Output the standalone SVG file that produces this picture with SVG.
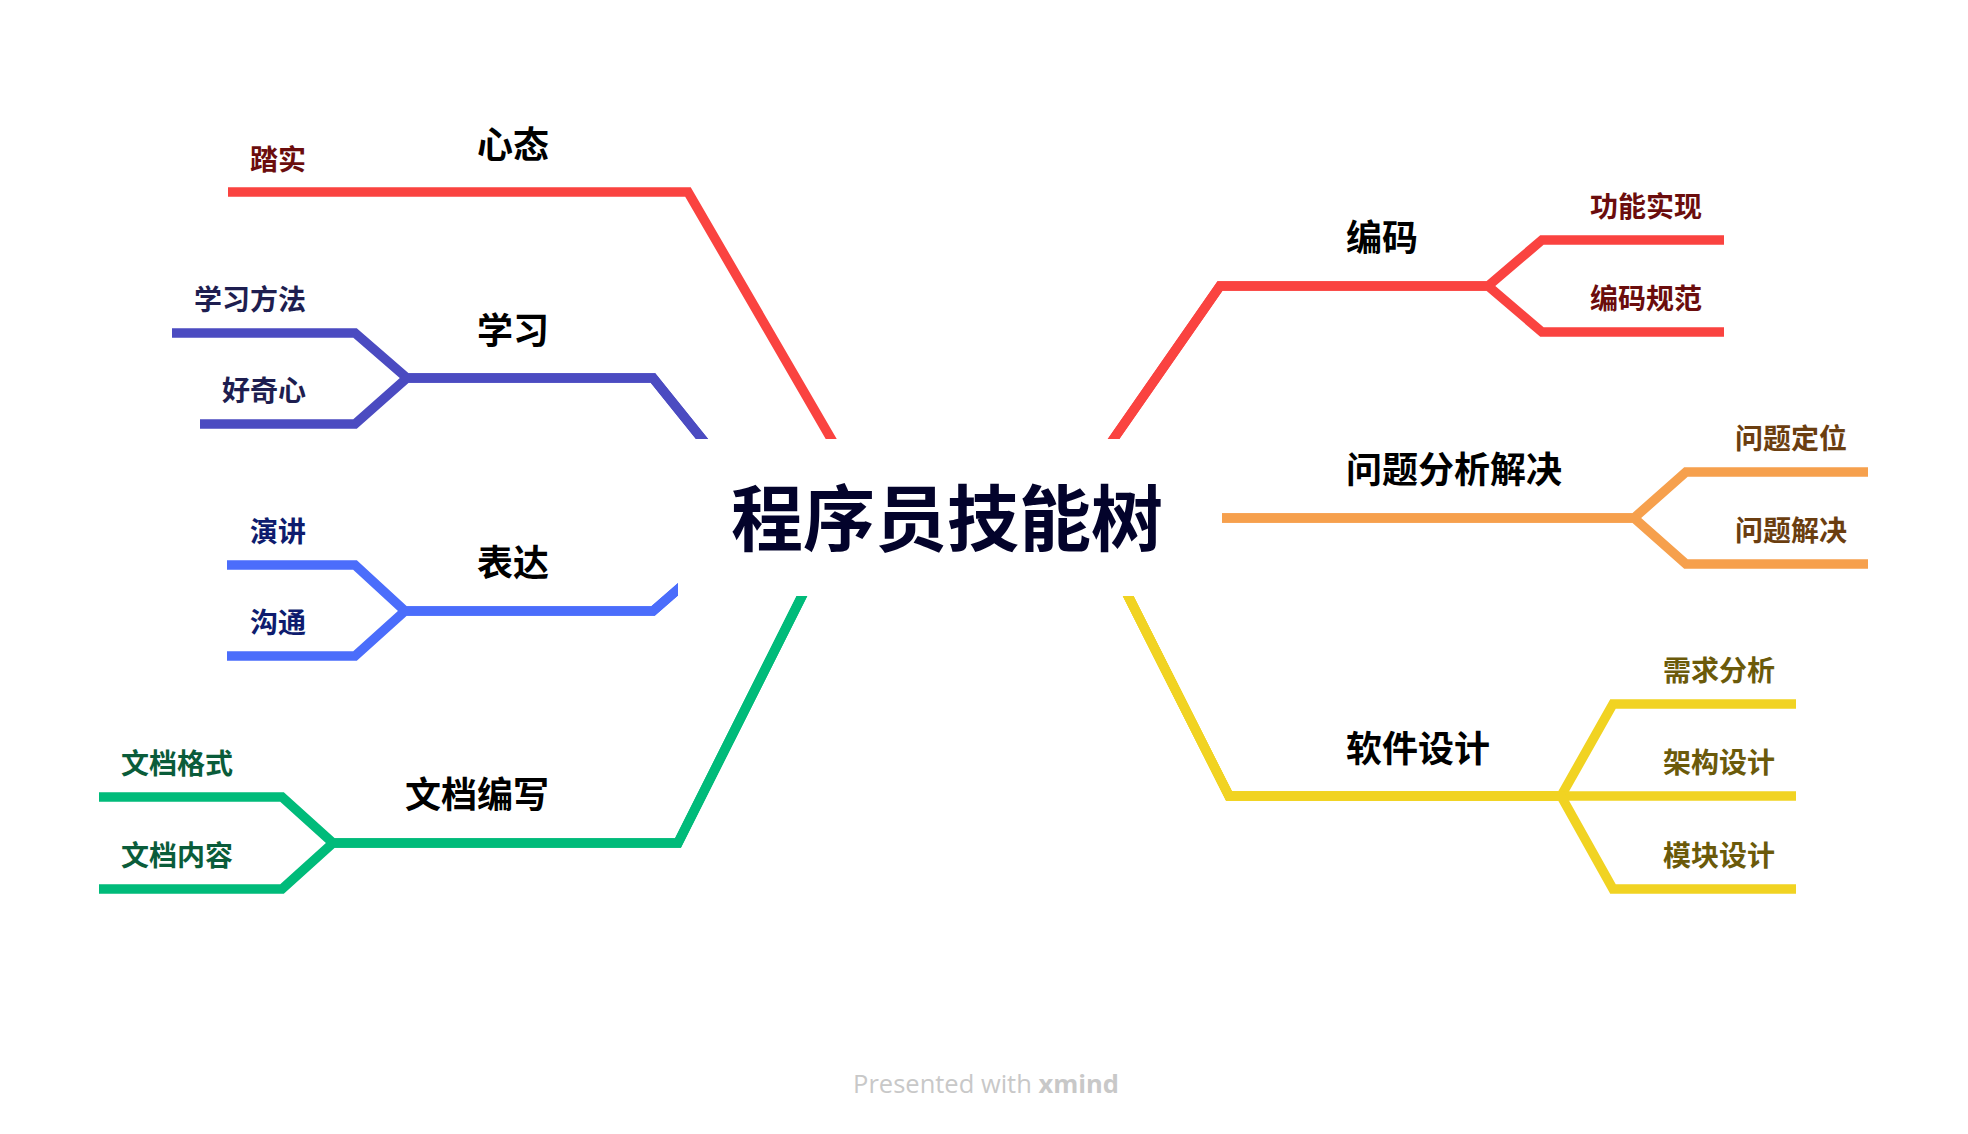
<svg xmlns="http://www.w3.org/2000/svg" width="1968" height="1134" viewBox="0 0 1968 1134">
  <style>
    .br { fill: none; stroke-width: 9.5; stroke-linejoin: miter; stroke-miterlimit: 10; stroke-linecap: butt; }
    .txt { font-family: "Noto Sans CJK SC", "Noto Sans", sans-serif; font-weight: 700; }
    .main { font-size: 36px; fill: #000000; }
    .sub { font-size: 28px; }
    .title { font-size: 72px; fill: #03032b; }
    .footer { font-family: "Open Sans", Lato, sans-serif; font-size: 25.5px; fill: #c8c8c8; }
  </style>
  <rect width="1968" height="1134" fill="#ffffff"/>

  <!-- branch lines (drawn from behind the central topic) -->
  <g id="connectors">
    <path class="br" stroke="#fa4340" d="M 855,480 L 688,192 L 228,192"/>
    <path class="br" stroke="#4b4bc1" d="M 735,480 L 653,378 L 407,378 L 355,333 L 172,333"/>
    <path class="br" stroke="#4b4bc1" d="M 735,480 L 653,378 L 407,378 L 355,424 L 200,424"/>
    <path class="br" stroke="#4b6dfb" d="M 700,570 L 676,591 L 653,611 L 405,611 L 355,565 L 227,565"/>
    <path class="br" stroke="#4b6dfb" d="M 700,570 L 676,591 L 653,611 L 405,611 L 355,656 L 227,656"/>
    <path class="br" stroke="#00bb7a" d="M 820,560 L 678,843 L 333,843 L 282,797 L 99,797"/>
    <path class="br" stroke="#00bb7a" d="M 820,560 L 678,843 L 333,843 L 282,889 L 99,889"/>
    <path class="br" stroke="#fa4340" d="M 1085,480 L 1220,286 L 1488,286 L 1542,240 L 1724,240"/>
    <path class="br" stroke="#fa4340" d="M 1085,480 L 1220,286 L 1488,286 L 1542,332 L 1724,332"/>
    <path class="br" stroke="#f6a04d" d="M 1190,518 L 1634,518 L 1686,472 L 1868,472"/>
    <path class="br" stroke="#f6a04d" d="M 1190,518 L 1634,518 L 1686,564 L 1868,564"/>
    <path class="br" stroke="#f1d322" d="M 1110,560 L 1229,796 L 1561,796 L 1613,704 L 1796,704"/>
    <path class="br" stroke="#f1d322" d="M 1110,560 L 1229,796 L 1561,796 L 1796,796"/>
    <path class="br" stroke="#f1d322" d="M 1110,560 L 1229,796 L 1561,796 L 1613,889 L 1796,889"/>
  </g>

  <!-- central topic -->
  <g id="central">
    <rect x="678" y="439" width="544" height="157" fill="#ffffff"/>
    <text class="txt title" x="947" y="545" text-anchor="middle">程序员技能树</text>
  </g>

  <!-- left side -->
  <g id="mindset">
    <text class="txt main" x="549" y="158" text-anchor="end">心态</text>
  </g>
  <g id="mindset-steady">
    <text class="txt sub" x="306" y="169.5" text-anchor="end" fill="#6b0d0d">踏实</text>
  </g>

  <g id="learning">
    <text class="txt main" x="549" y="344" text-anchor="end">学习</text>
  </g>
  <g id="learning-method">
    <text class="txt sub" x="306" y="310" text-anchor="end" fill="#1e1e50">学习方法</text>
  </g>
  <g id="learning-curiosity">
    <text class="txt sub" x="306" y="400.5" text-anchor="end" fill="#1e1e50">好奇心</text>
  </g>

  <g id="expression">
    <text class="txt main" x="549" y="576" text-anchor="end">表达</text>
  </g>
  <g id="expression-speech">
    <text class="txt sub" x="306" y="541.5" text-anchor="end" fill="#0e1c6e">演讲</text>
  </g>
  <g id="expression-communication">
    <text class="txt sub" x="306" y="632.5" text-anchor="end" fill="#0e1c6e">沟通</text>
  </g>

  <g id="documentation">
    <text class="txt main" x="549" y="808" text-anchor="end">文档编写</text>
  </g>
  <g id="documentation-format">
    <text class="txt sub" x="233" y="773.5" text-anchor="end" fill="#0a5c3a">文档格式</text>
  </g>
  <g id="documentation-content">
    <text class="txt sub" x="233" y="865.5" text-anchor="end" fill="#0a5c3a">文档内容</text>
  </g>

  <!-- right side -->
  <g id="coding">
    <text class="txt main" x="1346" y="251">编码</text>
  </g>
  <g id="coding-feature">
    <text class="txt sub" x="1590" y="216.5" fill="#6b0d0d">功能实现</text>
  </g>
  <g id="coding-standard">
    <text class="txt sub" x="1590" y="308.5" fill="#6b0d0d">编码规范</text>
  </g>

  <g id="problem-solving">
    <text class="txt main" x="1346" y="483">问题分析解决</text>
  </g>
  <g id="problem-locate">
    <text class="txt sub" x="1735" y="448.5" fill="#6b3e10">问题定位</text>
  </g>
  <g id="problem-solve">
    <text class="txt sub" x="1735" y="540.5" fill="#6b3e10">问题解决</text>
  </g>

  <g id="software-design">
    <text class="txt main" x="1346" y="762">软件设计</text>
  </g>
  <g id="design-requirements">
    <text class="txt sub" x="1663" y="680.5" fill="#6b5a0a">需求分析</text>
  </g>
  <g id="design-architecture">
    <text class="txt sub" x="1663" y="772.5" fill="#6b5a0a">架构设计</text>
  </g>
  <g id="design-module">
    <text class="txt sub" x="1663" y="865.5" fill="#6b5a0a">模块设计</text>
  </g>

  <text class="footer" x="986" y="1093" text-anchor="middle">Presented with <tspan font-weight="700">xmind</tspan></text>
</svg>
